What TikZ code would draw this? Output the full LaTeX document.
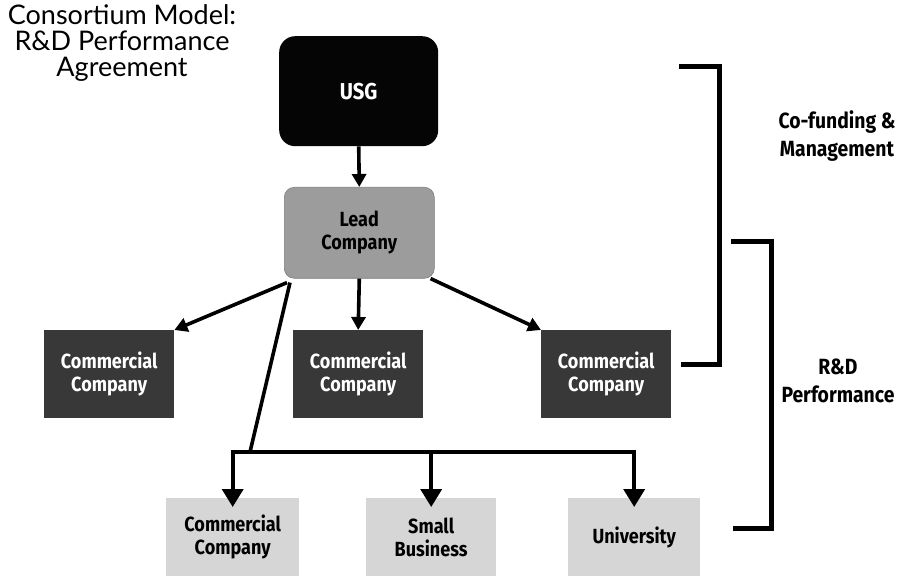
\documentclass[tikz,border=0pt]{standalone}
\usepackage{fontspec}
\setmainfont{Lato}
\newfontfamily\lblfont[FakeStretch=0.88]{Fira Sans}
\usetikzlibrary{arrows.meta}
\definecolor{usgfill}{HTML}{050505}
\definecolor{leadfill}{HTML}{9C9C9C}
\definecolor{darkfill}{HTML}{383838}
\definecolor{lightfill}{HTML}{D6D6D6}
\begin{document}
\begin{tikzpicture}[x=1pt,y=-1pt,
  lbl/.style={font=\lblfont\bfseries\fontsize{20.5}{23}\selectfont, align=center},
  box/.style={lbl, inner sep=0pt, anchor=north west},
  usgbox/.style={box, fill=usgfill, text=white, rounded corners=16pt},
  leadbox/.style={box, fill=leadfill, draw=leadfill!80!black, line width=0.6pt, text=black, rounded corners=10pt},
  darkbox/.style={box, fill=darkfill, text=white},
  lightbox/.style={box, fill=lightfill, text=black},
  conn/.style={line width=3.6pt, -{Triangle[length=13pt,width=14pt]}},
  bigconn/.style={line width=3.8pt, -{Triangle[length=18pt,width=21pt]}},
  plain/.style={line width=3.6pt},
  bracket/.style={line width=5pt, line cap=butt, line join=miter},
  side/.style={lbl, font=\lblfont\bfseries\fontsize{22}{28}\selectfont, text=black}
]
\useasboundingbox (0,0) rectangle (911,577);

% title
\node[align=center, font=\fontsize{27}{26}\selectfont] (title) at (122,43)
  {Consortium Model:\\R\&D Performance\\Agreement};

% top of the hierarchy
\node[usgbox, minimum width=159pt, minimum height=110pt] (usg) at (279,36)
  {\fontsize{23}{26}\selectfont USG};
\node[leadbox, minimum width=150pt, minimum height=91pt] (lead) at (284,187)
  {Lead\\Company};

% first tier partners
\node[darkbox, minimum width=130pt, minimum height=88pt] (c1) at (44,330)
  {Commercial\\Company};
\node[darkbox, minimum width=130pt, minimum height=88pt] (c2) at (293,330)
  {Commercial\\Company};
\node[darkbox, minimum width=130pt, minimum height=88pt] (c3) at (541,330)
  {Commercial\\Company};

% performers
\node[lightbox, minimum width=133pt, minimum height=78pt] (b1) at (166,498)
  {Commercial\\Company};
\node[lightbox, minimum width=130pt, minimum height=78pt] (b2) at (366,498)
  {Small\\Business};
\node[lightbox, minimum width=132pt, minimum height=78pt] (b3) at (568,498)
  {University};

% connectors
\draw[conn] (usg.south) -- (lead.north);
\draw[conn] ([xshift=3pt,yshift=-4pt]lead.south west) -- (c1.north east);
\draw[conn] (lead.south) -- (c2.north);
\draw[conn] ([xshift=-4pt]lead.south east) -- (c3.north west);

\coordinate (j) at (250,452);
\draw[plain] ([xshift=6pt,yshift=-4pt]lead.south west) -- (j);
\draw[plain, line cap=butt] ([xshift=-1.8pt]b1.north |- j) -- ([xshift=1.8pt]b3.north |- j);
\draw[bigconn] (b1.north |- j) -- ([yshift=-9pt]b1.north);
\draw[bigconn] (b2.north |- j) -- ([yshift=-9pt]b2.north);
\draw[bigconn] (b3.north |- j) -- ([yshift=-9pt]b3.north);

% brackets
\coordinate (k1a) at (679,67);
\coordinate (k1b) at (719,67);
\coordinate (k1c) at (719,365);
\coordinate (k1d) at (681,365);
\draw[bracket] (k1a) -- (k1b) -- (k1c) -- (k1d);
\coordinate (k2a) at (731,242);
\coordinate (k2b) at (771,242);
\coordinate (k2c) at (771,528);
\coordinate (k2d) at (733,528);
\draw[bracket] (k2a) -- (k2b) -- (k2c) -- (k2d);

\node[side] (cofund) at (837,136) {Co-funding \&\\Management};
\node[side] (rdperf) at (838,381) {R\&D\\Performance};
\end{tikzpicture}
\end{document}
